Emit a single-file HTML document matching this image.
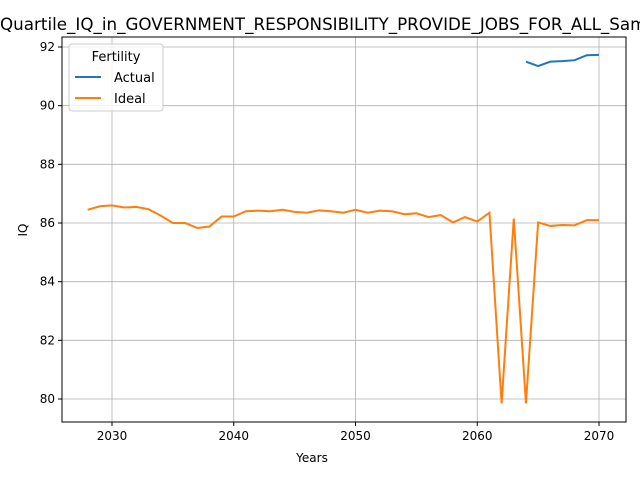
<!DOCTYPE html>
<html><head><meta charset="utf-8"><style>body{margin:0;background:#fff}svg{display:block;font-family:"DejaVu Sans","Liberation Sans",sans-serif}</style></head>
<body>
<svg id="chart" width="640" height="480" viewBox="0 0 640 480">
<text x="0" y="30" font-size="16.8" text-anchor="start" textLength="672" lengthAdjust="spacingAndGlyphs">Quartile_IQ_in_GOVERNMENT_RESPONSIBILITY_PROVIDE_JOBS_FOR_ALL_Sample</text>
<g id="grid"></g>
<g id="series"></g>
<rect x="62" y="37" width="564" height="385" fill="none" stroke="#000" stroke-width="1"/>
<g id="ticks"></g>
<text x="312" y="462" font-size="12" text-anchor="middle">Years</text>
<text transform="translate(27,230) rotate(-90)" font-size="12" text-anchor="middle">IQ</text>
<g>
<rect x="69" y="44" width="94" height="67" rx="3" fill="#fff" fill-opacity="0.8" stroke="#ccc"/>
<text x="116" y="61" font-size="13" text-anchor="middle">Fertility</text>
<line x1="75" y1="77" x2="101" y2="77" stroke="#1f77b4" stroke-width="2"/>
<text x="114" y="82" font-size="13">Actual</text>
<line x1="75" y1="98" x2="101" y2="98" stroke="#ff7f0e" stroke-width="2"/>
<text x="114" y="103" font-size="13">Ideal</text>
</g>
</svg>
<script>
const idealYears=[2028,2029,2030,2031,2032,2033,2034,2035,2036,2037,2038,2039,2040,2041,2042,2043,2044,2045,2046,2047,2048,2049,2050,2051,2052,2053,2054,2055,2056,2057,2058,2059,2060,2061,2062,2063,2064,2065,2066,2067,2068,2069,2070];
const idealValues=[86.45,86.57,86.6,86.53,86.55,86.47,86.25,86.0,86.0,85.83,85.88,86.22,86.22,86.4,86.42,86.4,86.45,86.38,86.35,86.43,86.4,86.35,86.45,86.35,86.42,86.4,86.3,86.33,86.2,86.27,86.02,86.2,86.05,86.35,79.85,86.15,79.85,86.02,85.9,85.93,85.92,86.1,86.1];
const actualYears=[2064,2065,2066,2067,2068,2069,2070];
const actualValues=[91.5,91.35,91.5,91.52,91.55,91.72,91.73];
const xTicks=[2030,2040,2050,2060,2070];
const yTicks=[80,82,84,86,88,90,92];
const NS="http://www.w3.org/2000/svg";
const xs=y=>112+(y-2030)*(599-112)/40;
const ys=v=>399-(v-80)*(399-47)/12;
const grid=document.getElementById('grid'),ticks=document.getElementById('ticks'),ser=document.getElementById('series');
function mk(tag,attrs,parent){const e=document.createElementNS(NS,tag);for(const k in attrs)e.setAttribute(k,attrs[k]);parent.appendChild(e);return e;}
xTicks.forEach(t=>{const x=xs(t);
const g=mk('line',{x1:x,x2:x,y1:37,y2:422,stroke:'#b0b0b0','stroke-width':0.8},grid);


mk('line',{x1:x,x2:x,y1:422,y2:426,stroke:'#000'},ticks);
const tx=mk('text',{x:x,y:440,'font-size':12,'text-anchor':'middle'},ticks);tx.textContent=t;

});
yTicks.forEach(t=>{const y=ys(t);
const g=mk('line',{x1:62,x2:626,y1:y,y2:y,stroke:'#b0b0b0','stroke-width':0.8},grid);


mk('line',{x1:58,x2:62,y1:y,y2:y,stroke:'#000'},ticks);
const tx=mk('text',{x:55,y:y+4,'font-size':12,'text-anchor':'end'},ticks);tx.textContent=t;

});
function line(xsA,vs,color,name){const p=mk('polyline',{points:xsA.map((y,i)=>xs(y)+','+ys(vs[i])).join(' '),fill:'none',stroke:color,'stroke-width':2},ser);

}
line(actualYears,actualValues,'#1f77b4','actual-line');
line(idealYears,idealValues,'#ff7f0e','ideal-line');
</script>
</body></html>
